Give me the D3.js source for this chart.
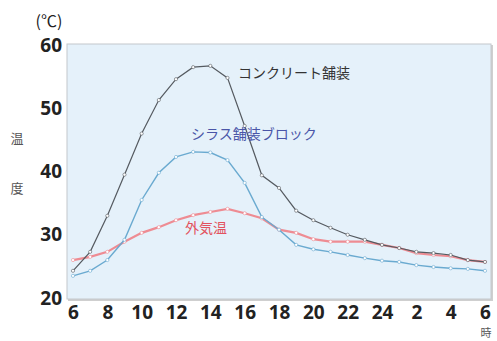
<!DOCTYPE html>
<html><head><meta charset="utf-8">
<script src="https://cdn.jsdelivr.net/npm/d3@7"></script>
<style>
html,body{margin:0;padding:0;background:#fff;}
svg{display:block;}
</style></head>
<body><svg id="c" width="497" height="341"></svg>
<script>
const hours = d3.range(6, 31); // 6..30 (30 = 6 next day)
const tickHours = [6,8,10,12,14,16,18,20,22,24,26,28,30];
const tickLabels = ["6","8","10","12","14","16","18","20","22","24","2","4","6"];
const yTicks = [20,30,40,50,60];
const concrete = [24.3,27.3,33.0,39.5,46.0,51.3,54.6,56.5,56.7,54.8,47.2,39.4,37.4,33.8,32.3,31.1,30.0,29.2,28.4,27.9,27.3,27.1,26.8,26.0,25.7];
const shirasu  = [23.5,24.3,26.0,29.2,35.5,39.8,42.3,43.1,43.0,41.8,38.2,32.8,30.8,28.4,27.7,27.3,26.8,26.3,25.9,25.7,25.2,24.9,24.7,24.6,24.3];
const outside  = [26.0,26.5,27.3,28.9,30.3,31.2,32.3,33.1,33.6,34.1,33.4,32.6,30.8,30.3,29.3,28.9,28.9,28.9,28.4,27.9,27.1,26.8,26.6,26.0,25.7];
const seriesNames = ["コンクリート舗装","シラス舗装ブロック","外気温"];

const svg = d3.select("#c");
const x = d3.scaleLinear().domain([6,30]).range([73,485]);
const y = d3.scaleLinear().domain([20,60]).range([298,45]);

// frame
svg.append("rect").attr("x",68).attr("y",45).attr("width",425).attr("height",256).attr("fill","#cfcfcf");
svg.append("rect").attr("x",67).attr("y",44).attr("width",424).attr("height",255)
  .attr("fill","#e5f1fa").attr("stroke","#c4c8cc").attr("stroke-width",1);

const numFont = "'Open Sans','Noto Sans',sans-serif";
const jpFont = "'Noto Sans CJK JP',sans-serif";

// y axis
const yAxis = d3.axisLeft(y).tickValues(yTicks).tickSize(0).tickPadding(0);
const gy = svg.append("g").attr("transform","translate(62,0)").call(yAxis);
gy.select(".domain").remove();
gy.selectAll("text").attr("font-family",numFont).attr("font-weight","bold")
  .attr("font-size",19).attr("fill","#222");

// x axis
const xAxis = d3.axisBottom(x).tickValues(tickHours).tickFormat((d,i)=>tickLabels[i]).tickSize(0).tickPadding(0);
const gx = svg.append("g").attr("transform","translate(0,305)").call(xAxis);
gx.select(".domain").remove();
gx.selectAll("text").attr("font-family",numFont).attr("font-weight","bold")
  .attr("font-size",19).attr("fill","#222");

// units
svg.append("text").attr("x",49).attr("y",27).attr("text-anchor","middle")
  .attr("font-family",jpFont).attr("font-size",16).attr("fill","#222").text("(℃)");
svg.append("text").attr("x",17).attr("y",143).attr("text-anchor","middle")
  .attr("font-family",jpFont).attr("font-size",13).attr("fill","#555").text("温");
svg.append("text").attr("x",17).attr("y",193).attr("text-anchor","middle")
  .attr("font-family",jpFont).attr("font-size",13).attr("fill","#555").text("度");
svg.append("text").attr("x",486).attr("y",337).attr("text-anchor","middle")
  .attr("font-family",jpFont).attr("font-size",11).attr("fill","#555").text("時");

const line = d3.line().x((d,i)=>x(hours[i])).y(d=>y(d));
const series = [
  {vals: outside, color:"#ee8c93", width:2.2},
  {vals: shirasu, color:"#6aaad0", width:1.4},
  {vals: concrete, color:"#555a60", width:1.2}
];
series.forEach(s=>{
  svg.append("path").datum(s.vals).attr("d",line).attr("fill","none")
    .attr("stroke",s.color).attr("stroke-width",s.width);
  svg.append("g").selectAll("circle").data(s.vals).join("circle")
    .attr("cx",(d,i)=>x(hours[i])).attr("cy",d=>y(d)).attr("r",1.6)
    .attr("fill","#fff").attr("stroke",s.color).attr("stroke-width",0.6);
});

// labels
svg.append("text").attr("x",238).attr("y",78).attr("font-family",jpFont)
  .attr("font-size",14).attr("fill","#333").text(seriesNames[0]);
svg.append("text").attr("x",191).attr("y",139).attr("font-family",jpFont)
  .attr("font-size",14).attr("fill","#4a55a8").text(seriesNames[1]);
svg.append("text").attr("x",185).attr("y",233).attr("font-family",jpFont)
  .attr("font-size",14).attr("fill","#e2525e").text(seriesNames[2]);
</script></body></html>
